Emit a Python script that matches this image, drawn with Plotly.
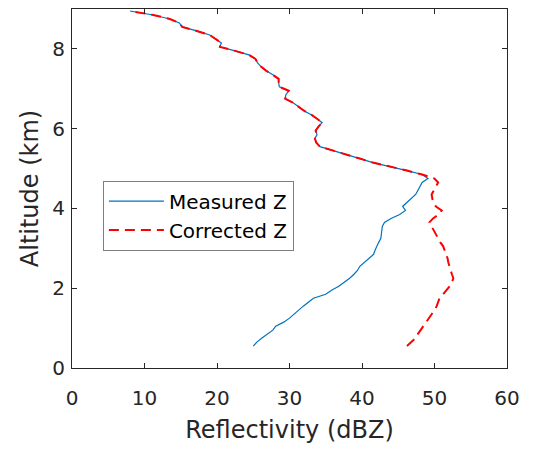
import plotly.graph_objects as go

# ── Data ────────────────────────────────────────────────────────────────────────
altitude_km = [
    0.55, 0.65, 0.75, 0.85, 0.95, 1.05, 1.15, 1.25, 1.35, 1.45,
    1.55, 1.65, 1.75, 1.85, 1.95, 2.05, 2.15, 2.25, 2.35, 2.45,
    2.55, 2.65, 2.75, 2.85, 2.95, 3.05, 3.15, 3.25, 3.35, 3.45,
    3.55, 3.65, 3.75, 3.85, 3.95, 4.05, 4.15, 4.25, 4.35, 4.45,
    4.55, 4.65, 4.75, 4.85, 4.95, 5.05, 5.15, 5.25, 5.35, 5.45,
    5.55, 5.65, 5.75, 5.85, 5.95, 6.05, 6.15, 6.25, 6.35, 6.45,
    6.55, 6.65, 6.75, 6.85, 6.95, 7.05, 7.15, 7.25, 7.35, 7.45,
    7.55, 7.65, 7.75, 7.85, 7.95, 8.05, 8.15, 8.25, 8.35, 8.45,
    8.55, 8.65, 8.75, 8.85, 8.95,
]

measured_z = [
    25.0, 25.5, 26.2, 26.9, 27.7, 28.1, 29.2, 30.0, 30.6, 31.2,
    31.9, 32.6, 33.3, 35.0, 35.8, 36.8, 37.6, 38.3, 38.9, 39.4,
    39.7, 40.3, 41.0, 41.6, 41.8, 42.0, 42.3, 42.6, 42.7, 42.7,
    42.8, 43.1, 44.0, 45.2, 46.0, 45.6, 46.2, 46.8, 47.4, 47.7,
    48.0, 48.3, 49.1, 48.3, 46.2, 43.7, 41.5, 39.7, 37.8, 36.0,
    34.2, 33.7, 33.5, 33.8, 33.6, 34.0, 34.5, 33.8, 33.0, 32.0,
    31.2, 30.5, 29.4, 29.5, 29.9, 28.6, 28.5, 28.5, 27.7, 26.8,
    26.1, 25.6, 25.3, 24.4, 22.5, 20.4, 20.6, 19.8, 19.0, 17.2,
    15.2, 14.8, 13.5, 11.2, 8.0,
]

corrected_z = [
    46.2, 46.8, 47.4, 47.7, 48.1, 48.4, 48.8, 49.2, 49.6, 50.0,
    50.3, 50.5, 50.7, 51.2, 51.7, 52.1, 52.4, 52.6, 52.4, 52.2,
    52.1, 51.9, 51.8, 51.6, 51.3, 51.2, 50.8, 50.5, 50.3, 50.0,
    49.7, 49.3, 49.8, 50.6, 51.0, 50.2, 49.8, 49.7, 49.6, 49.9,
    50.2, 50.5, 50.0, 48.3, 46.2, 43.7, 41.5, 39.7, 37.8, 36.0,
    34.2, 33.7, 33.5, 33.8, 33.6, 34.0, 34.5, 33.8, 33.0, 32.0,
    31.2, 30.5, 29.4, 29.5, 29.9, 28.6, 28.5, 28.5, 27.7, 26.8,
    26.1, 25.6, 25.3, 24.4, 22.5, 20.4, 20.6, 19.8, 19.0, 17.2,
    15.2, 14.8, 13.5, 11.2, 8.0,
]

x_ticks = [0, 10, 20, 30, 40, 50, 60]
y_ticks = [0, 2, 4, 6, 8]

# page body has an 8px margin, so the figure is drawn 8px smaller and offset
FONT = "'DejaVu Sans', sans-serif"
AXIS = dict(
    showline=True, linecolor="#262626", linewidth=1, mirror="ticks",
    ticks="inside", ticklen=5, tickcolor="#262626",
    showgrid=False, zeroline=False, automargin=False,
    tickfont=dict(size=20, color="#262626"),
)

fig = go.Figure()

fig.add_trace(go.Scatter(
    x=measured_z, y=altitude_km,
    mode="lines", name="Measured Z",
    line=dict(color="#0072BD", width=1.2),
))
fig.add_trace(go.Scatter(
    x=corrected_z, y=altitude_km,
    mode="lines", name="Corrected Z",
    line=dict(color="#FF0000", width=2, dash="10px,6px"),
))

fig.update_layout(
    width=534, height=442,
    paper_bgcolor="white", plot_bgcolor="white",
    font=dict(family=FONT, color="#262626"),
    margin=dict(l=64, r=35, t=1, b=82),
    xaxis=dict(**AXIS, range=[0, 60], tickvals=x_ticks, ticklabelstandoff=12,
               title=dict(text="Reflectivity (dBZ)", font=dict(size=24), standoff=12)),
    yaxis=dict(**AXIS, range=[0, 9], tickvals=y_ticks, ticklabelstandoff=2,
               title=dict(text="Altitude (km)", font=dict(size=24), standoff=6)),
    legend=dict(
        x=0.071, y=0.522, xanchor="left", yanchor="top",
        bgcolor="white", bordercolor="#7f7f7f", borderwidth=1,
        font=dict(size=20, color="#000000"),
        itemwidth=55, tracegroupgap=0,
    ),
    showlegend=True,
)

fig.write_html("out.html")
